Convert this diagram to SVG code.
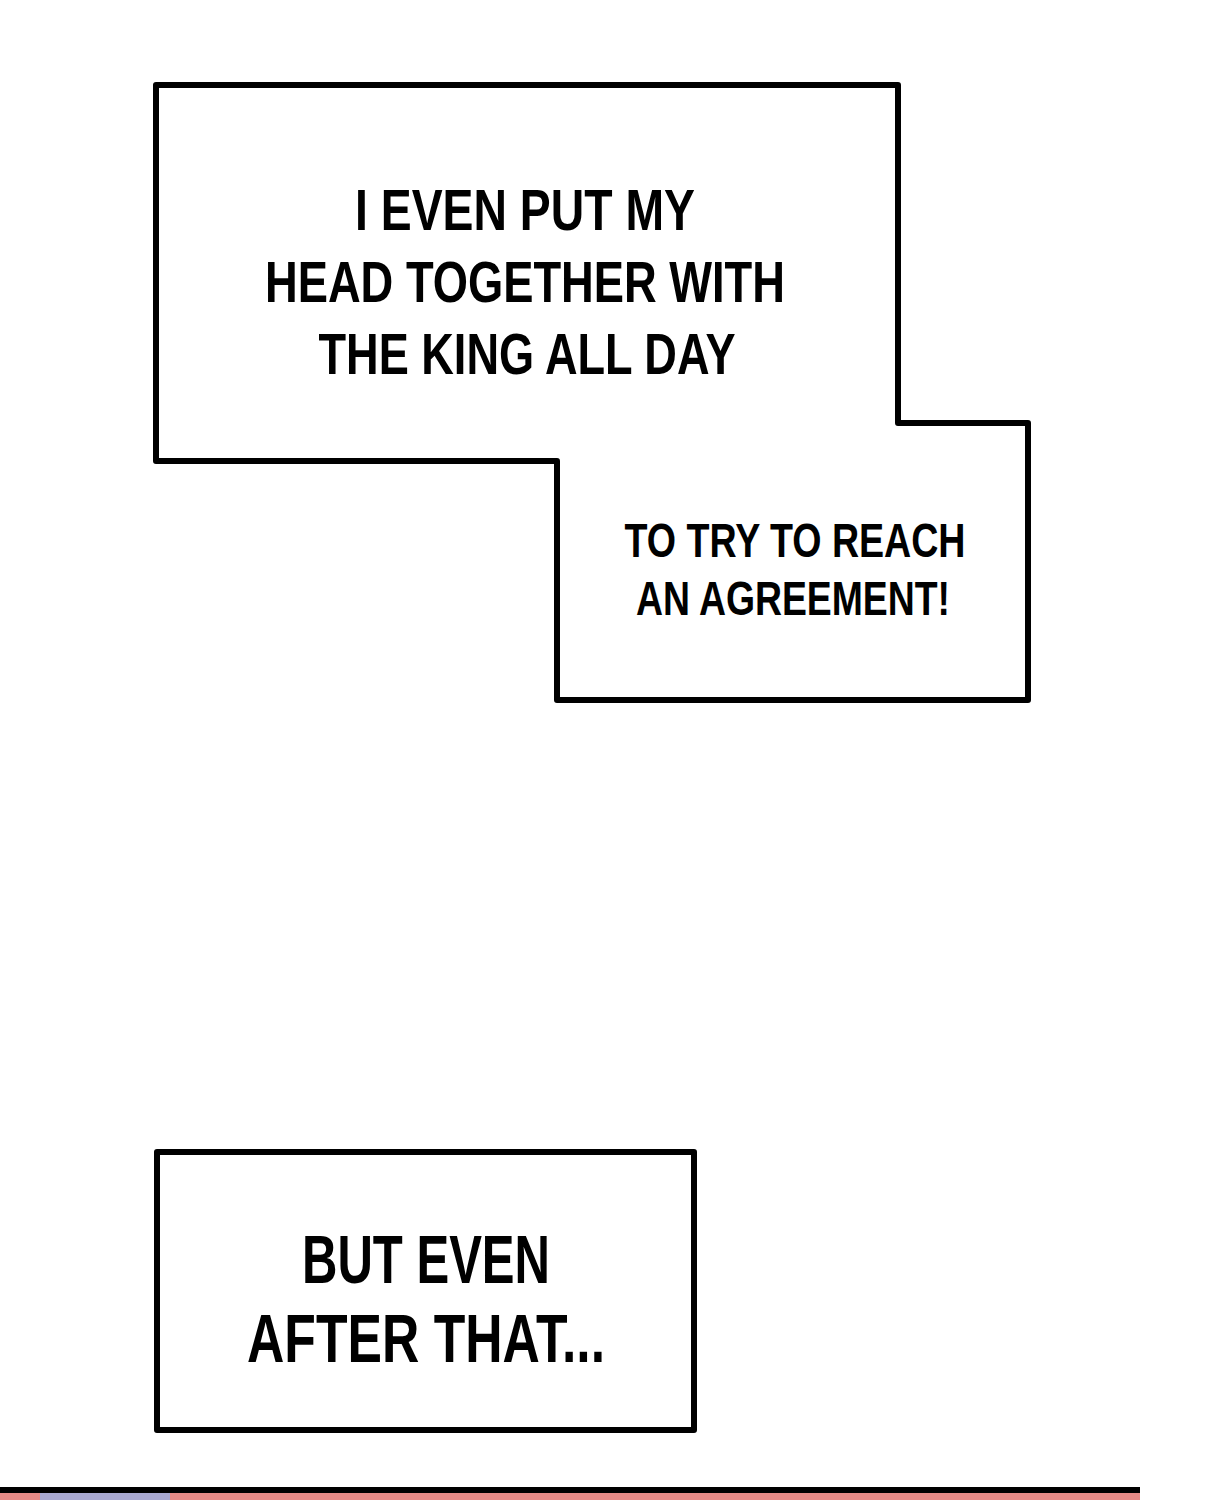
<svg xmlns="http://www.w3.org/2000/svg" width="1225" height="1500" viewBox="0 0 1225 1500">
<style>
.box{fill:#fff;stroke:#000;stroke-width:6;stroke-linejoin:round}
.t{font-family:"Liberation Sans",sans-serif;font-weight:bold;fill:#000;text-anchor:middle}
</style>
<rect width="1225" height="1500" fill="#fff"/>
<g id="box1">
<path class="box" d="M156,85 H898 V423 H1028 V700 H557 V461 H156 Z"/>
<text class="t" font-size="58" x="525" y="230" textLength="340" lengthAdjust="spacingAndGlyphs">I EVEN PUT MY</text>
<text class="t" font-size="58" x="525" y="302" textLength="520" lengthAdjust="spacingAndGlyphs">HEAD TOGETHER WITH</text>
<text class="t" font-size="58" x="527" y="374" textLength="417" lengthAdjust="spacingAndGlyphs">THE KING ALL DAY</text>
<text class="t" font-size="48" x="795" y="557" textLength="341" lengthAdjust="spacingAndGlyphs">TO TRY TO REACH</text>
<text class="t" font-size="48" x="793" y="615" textLength="314" lengthAdjust="spacingAndGlyphs">AN AGREEMENT!</text>
</g>
<g id="box2">
<rect class="box" x="157" y="1152" width="537" height="278"/>
<text class="t" font-size="68" x="426" y="1283" textLength="248" lengthAdjust="spacingAndGlyphs">BUT EVEN</text>
<text class="t" font-size="68" x="426" y="1362" textLength="358" lengthAdjust="spacingAndGlyphs">AFTER THAT...</text>
</g>
<g id="bottom">
<rect x="0" y="1487" width="1140" height="13" fill="#e58a86"/>
<rect x="40" y="1492" width="130" height="8" fill="#a9a8d0"/>
<rect x="0" y="1487" width="1140" height="6" fill="#000"/>
</g>
</svg>
